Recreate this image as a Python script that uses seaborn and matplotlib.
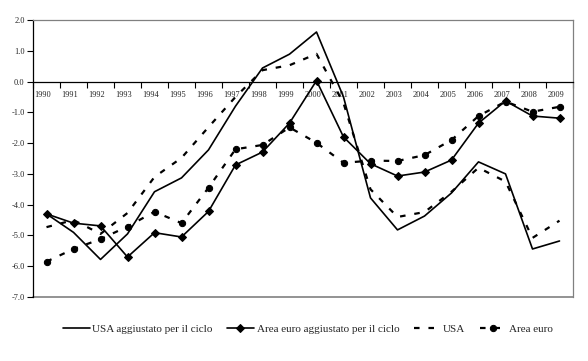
import matplotlib
matplotlib.use("Agg")
import matplotlib.pyplot as plt
import matplotlib.transforms as mtransforms
import seaborn as sns
import numpy as np
import pandas as pd

years = [str(y) for y in range(1990, 2010)]
usa_adj = [-4.3, -4.9, -5.78, -4.95, -3.58, -3.13, -2.22, -0.8, 0.44, 0.89,
           1.61, -0.5, -3.78, -4.82, -4.37, -3.62, -2.61, -3.0, -5.44, -5.18]
euro_adj = [-4.3, -4.6, -4.69, -5.7, -4.91, -5.05, -4.22, -2.71, -2.29, -1.35,
            0.03, -1.8, -2.67, -3.07, -2.94, -2.55, -1.35, -0.63, -1.12, -1.19]
usa = [-4.73, -4.5, -4.95, -4.27, -3.1, -2.48, -1.48, -0.5, 0.37, 0.53,
       0.9, -0.7, -3.5, -4.4, -4.24, -3.58, -2.8, -3.25, -5.08, -4.52]
euro = [-5.85, -5.44, -5.12, -4.71, -4.23, -4.6, -3.45, -2.2, -2.06, -1.49,
        -1.99, -2.64, -2.57, -2.58, -2.39, -1.9, -1.12, -0.65, -0.98, -0.82]
series_names = ["USA aggiustato per il ciclo", "Area euro aggiustato per il ciclo",
                "USA", "Area euro"]
yticks = [2.0, 1.0, 0.0, -1.0, -2.0, -3.0, -4.0, -5.0, -6.0, -7.0]

sns.set_theme(style="white")
plt.rcParams['font.family'] = ['Liberation Serif', 'DejaVu Serif']

fig = plt.figure(figsize=(5.88, 3.61), dpi=100)
ax = fig.add_axes([33/588, 1 - 297/361, (573-33)/588, (297-20)/361])

x = np.arange(len(years))
styles = [
    dict(linestyle='-', marker=None, lw=1.2),
    dict(linestyle='-', marker='D', lw=1.2, ms=4),
    dict(linestyle=(0, (2.5, 4)), marker=None, lw=1.6),
    dict(linestyle=(0, (2.5, 4)), marker='o', lw=1.6, ms=4.5),
]
for name, vals, st in zip(series_names, [usa_adj, euro_adj, usa, euro], styles):
    df = pd.DataFrame({"x": x, "v": vals})
    kw = dict(color='black', linestyle=st['linestyle'], lw=st['lw'], label=name)
    if st['marker']:
        kw.update(marker=st['marker'], markersize=st['ms'],
                  markeredgecolor='black', markerfacecolor='black')
    sns.lineplot(data=df, x="x", y="v", ax=ax, **kw)

ax.set_xlim(-0.5, len(years) - 0.5)
ax.set_ylim(-7, 2)
ax.set_xlabel("")
ax.set_ylabel("")

# y axis
ax.set_yticks(yticks)
ax.set_yticklabels([f"{v:.1f}" for v in yticks], fontsize=6)
ax.tick_params(axis='y', which='major', direction='out', length=4, width=0.8,
               color='black', left=True, pad=2)

# x axis at zero
ax.spines['bottom'].set_position(('data', 0))
ax.spines['bottom'].set_color('black')
ax.spines['bottom'].set_linewidth(0.9)
ax.set_xticks(np.arange(len(years) + 1) - 0.5)
ax.set_xticklabels([])
ax.set_xticks(x, minor=True)
ax.set_xticklabels(years, minor=True, fontsize=6)
ax.tick_params(axis='x', which='major', direction='out', length=4, width=0.8,
               color='black', bottom=True)
ax.tick_params(axis='x', which='minor', length=0, pad=7)
shift = mtransforms.ScaledTranslation(-3.5/100, 0, fig.dpi_scale_trans)
for lab in ax.get_xticklabels(minor=True):
    lab.set_transform(lab.get_transform() + shift)

ax.spines['left'].set_color('black')
ax.spines['left'].set_linewidth(0.9)
for s in ['top', 'right']:
    ax.spines[s].set_color('#808080')
    ax.spines[s].set_linewidth(0.9)
ax.axhline(-7, color='#808080', lw=1.2, clip_on=False, zorder=0)

if ax.get_legend():
    ax.get_legend().remove()
handles, labels = ax.get_legend_handles_labels()
fig.legend(handles, labels, loc='center', bbox_to_anchor=(308/588, 1 - 329/361),
           ncol=4, frameon=False, fontsize=8, handlelength=2.4,
           columnspacing=1.3, handletextpad=0.25)

fig.savefig("out.png", dpi=100)
